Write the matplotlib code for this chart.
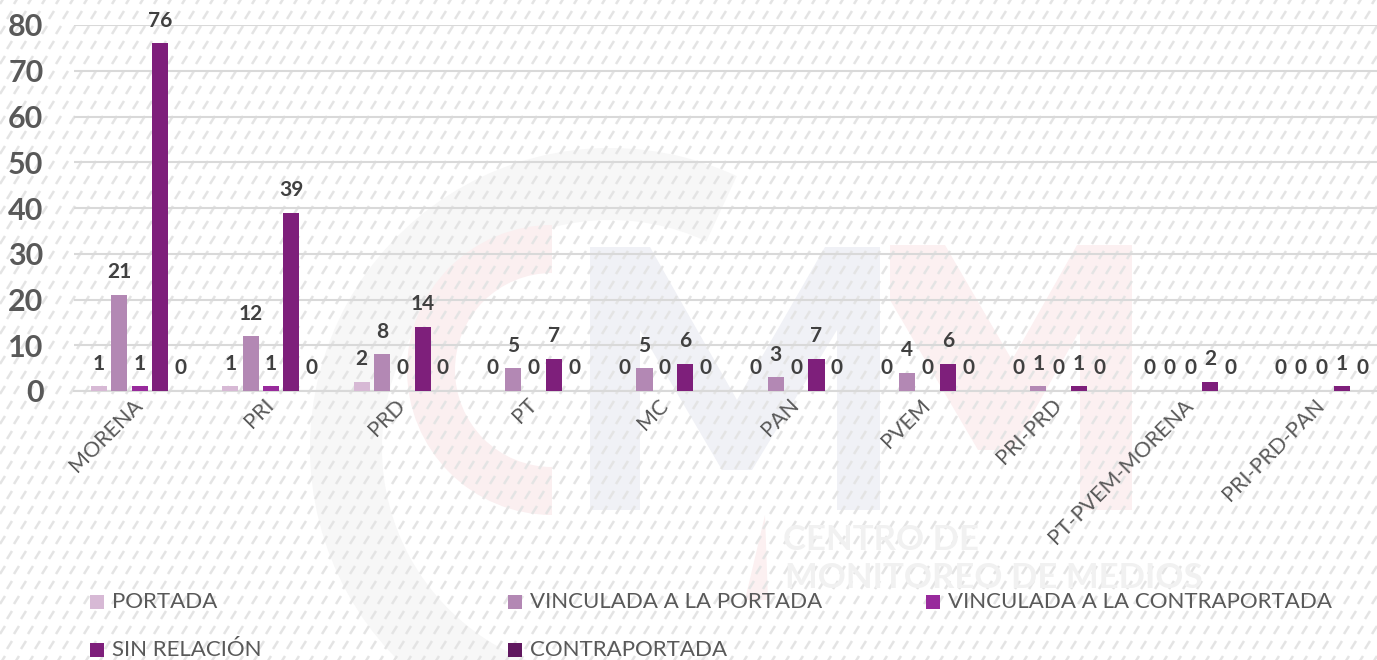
"""Grouped bar chart: notas por partido y ubicación (CMM)."""
import matplotlib.pyplot as plt
import numpy as np
from matplotlib.collections import LineCollection
from matplotlib.patches import Polygon, Rectangle, Wedge

W, H = 1377, 660

categories = ["MORENA", "PRI", "PRD", "PT", "MC", "PAN", "PVEM",
              "PRI-PRD", "PT-PVEM-MORENA", "PRI-PRD-PAN"]
series_names = ["PORTADA", "VINCULADA A LA PORTADA", "VINCULADA A LA CONTRAPORTADA",
                "SIN RELACIÓN", "CONTRAPORTADA"]
portada = [1, 1, 2, 0, 0, 0, 0, 0, 0, 0]
vinculada_portada = [21, 12, 8, 5, 5, 3, 4, 1, 0, 0]
vinculada_contraportada = [1, 1, 0, 0, 0, 0, 0, 0, 0, 0]
sin_relacion = [76, 39, 14, 7, 6, 7, 6, 1, 2, 1]
contraportada = [0, 0, 0, 0, 0, 0, 0, 0, 0, 0]
y_ticks = [0, 10, 20, 30, 40, 50, 60, 70, 80]

series = [portada, vinculada_portada, vinculada_contraportada, sin_relacion, contraportada]
colors = ["#d7b9d5", "#b388b4", "#982a9c", "#7e1f7b", "#60185f"]

FONT = ["Lato", "DejaVu Sans"]
TEXT = "#595959"
plt.rcParams["font.family"] = FONT

fig = plt.figure(figsize=(W / 100, H / 100), dpi=100)
fig.patch.set_facecolor("white")

# --- background: faint logo watermark and dashed hatch texture ---
bg = fig.add_axes([0, 0, 1, 1], zorder=0)
bg.set_xlim(0, W)
bg.set_ylim(H, 0)
bg.axis("off")

bg.add_patch(Wedge((610, 448), 300, 65, 295, width=72, color="#f7f7f7", lw=0))
bg.add_patch(Wedge((552, 370), 145, 90, 270, width=48, color="#fbeff0", lw=0))
blue_m = [(590, 510), (590, 247), (650, 247), (737, 400), (825, 247), (880, 247),
          (880, 510), (837, 510), (837, 330), (752, 470), (722, 470), (640, 330), (640, 510)]
bg.add_patch(Polygon(blue_m, closed=True, color="#f0f1f6", lw=0))
pink_m = [(890, 245), (945, 245), (1012, 360), (1077, 245), (1132, 245), (1132, 510),
          (1080, 510), (1080, 330), (1012, 450), (978, 450), (890, 300)]
bg.add_patch(Polygon(pink_m, closed=True, color="#fcf0f1", lw=0))
bg.add_patch(Polygon([(745, 600), (765, 515), (768, 600)], closed=True,
                     color="#fcf0f1", lw=0))
bg.text(783, 540, "CENTRO DE", fontsize=25, fontweight="bold", color="#f1f1f1",
        va="center", ha="left")
bg.text(785, 578, "MONITOREO DE MEDIOS", fontsize=25, fontweight="bold",
        color="#f1f1f1", va="center", ha="left")

segs = []
for r, y in enumerate(np.arange(0, H + 15, 15)):
    off = 7 if r % 2 else 0
    for x in np.arange(-14 + off, W + 14, 14):
        segs.append([(x, y + 4), (x + 5, y - 4)])
bg.add_collection(LineCollection(segs, colors="#e4e4e4", linewidths=1.8))

# --- main chart ---
ax = fig.add_axes([74 / W, (H - 391) / H, 1313 / W, 366 / H], zorder=1)
ax.set_facecolor("none")

x = np.arange(len(categories))
step, width = 0.155, 0.122
for i, (name, vals, col) in enumerate(zip(series_names, series, colors)):
    bars = ax.bar(x + (i - 2) * step, vals, width, color=col, label=name, zorder=3)
    ax.bar_label(bars, padding=9, fontsize=15, fontweight="bold", color="#404040")

ax.set_xlim(-0.5, len(categories) - 0.5)
ax.set_ylim(0, 80)
ax.set_yticks(y_ticks)
ax.set_yticklabels([str(t) for t in y_ticks], fontsize=22, fontweight="bold", color=TEXT)
ax.set_xticks(x)
ax.set_xticklabels(categories, rotation=45, ha="right", va="center",
                   rotation_mode="anchor", fontsize=15.5, color=TEXT)
ax.tick_params(axis="y", length=0, pad=22)
ax.tick_params(axis="x", length=0, pad=8)
ax.grid(axis="y", color="#d9d9d9", linewidth=1.5, zorder=0)
ax.set_axisbelow(True)
for side in ["top", "right", "left"]:
    ax.spines[side].set_visible(False)
ax.spines["bottom"].set_color("#d9d9d9")
ax.spines["bottom"].set_linewidth(1.5)

# --- legend, Excel-style equal columns ---
for i, (name, col) in enumerate(zip(series_names, colors)):
    cx = 90 + (i % 3) * 418
    cy = 602 + (i // 3) * 48
    bg.add_patch(Rectangle((cx, cy - 7), 14, 14, color=col, lw=0, zorder=5))
    bg.text(cx + 22, cy, name, fontsize=16, color=TEXT, va="center", ha="left", zorder=5)

fig.savefig("out.png", dpi=100)
